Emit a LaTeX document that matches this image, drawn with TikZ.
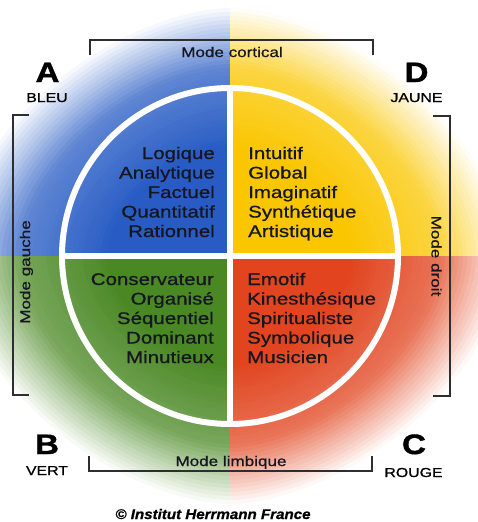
\documentclass[tikz,border=0pt]{standalone}
\usepackage{fontspec}
\setmainfont{Liberation Sans}[FakeStretch=1.22]
\newfontfamily\wordfont{Liberation Sans}[FakeStretch=1.22,FakeBold=0.8]
\newfontfamily\letterfont{Liberation Sans}[FakeStretch=1.18,FakeBold=1.5]
\newfontfamily\copyfont{Liberation Sans}[FakeStretch=1.08,FakeBold=0.8]
\definecolor{qblue}{RGB}{40,92,196}
\definecolor{qyellow}{RGB}{250,198,0}
\definecolor{qgreen}{RGB}{74,136,36}
\definecolor{qred}{RGB}{225,68,30}
\definecolor{ink}{RGB}{22,22,32}
\definecolor{brk}{RGB}{45,45,50}
% #1 colour, #2 x sign, #3 y sign
\newcommand\quadfade[3]{%
  \foreach \R in {256,252,...,112}{
    \pgfmathtruncatemacro\p{\R>190 ? max(0,75*(252-\R)/62) : 100-25*(\R-110)/80}
    \fill[#1!\p!white] (C) -- plot[domain=0:90,samples=31,variable=\t]
      ({230+#2*1.12*\R*max(cos(\t),0.0001)^1.1765},{256+#3*\R*max(sin(\t),0.0001)^1.1765}) -- cycle;
  }
  \fill[#1] (C) -- plot[domain=0:90,samples=31,variable=\t]
      ({230+#2*1.12*110*max(cos(\t),0.0001)^1.1765},{256+#3*110*max(sin(\t),0.0001)^1.1765}) -- cycle;
}
\begin{document}
\begin{tikzpicture}[x=1pt,y=-1pt,
  word/.style={text=ink,font=\wordfont\fontsize{16.8}{20}\selectfont,inner sep=0pt},
  letter/.style={text=black,font=\letterfont\fontsize{28}{30}\selectfont\bfseries,inner sep=0pt,anchor=base},
  colname/.style={text=black,font=\wordfont\fontsize{13}{15}\selectfont,inner sep=0pt,anchor=base},
  modelabel/.style={text=ink,font=\wordfont\fontsize{14}{16}\selectfont,inner sep=0pt},
  bracket/.style={draw=brk,line width=2pt},
  ring/.style={draw=white,line width=6pt}]
\useasboundingbox[fill=white] (0,0) rectangle (478,522);
\coordinate (C) at (230,256);
% coloured background
\begin{scope}
\clip (0,0) rectangle (478,522);
\quadfade{qblue}{-1}{-1}
\quadfade{qyellow}{1}{-1}
\quadfade{qgreen}{-1}{1}
\quadfade{qred}{1}{1}
\end{scope}
% white circle and cross
\draw[ring] (C) circle (168pt);
\coordinate (ct) at (230,88);
\coordinate (cb) at (230,424);
\coordinate (cl) at (62,256);
\coordinate (cr) at (398,256);
\draw[ring] (ct) -- (cb);
\draw[ring] (cl) -- (cr);
% quadrant words
\foreach \w [count=\i from 0] in {Logique,Analytique,Factuel,Quantitatif,Rationnel}
  \node[word,anchor=base east] (tl\i) at (215,159+19.5*\i) {\w};
\foreach \w [count=\i from 0] in {Intuitif,Global,Imaginatif,Synthétique,Artistique}
  \node[word,anchor=base west] (tr\i) at (248,159+19.5*\i) {\w};
\foreach \w [count=\i from 0] in {Conservateur,Organisé,Séquentiel,Dominant,Minutieux}
  \node[word,anchor=base east] (bl\i) at (214,285+19.5*\i) {\w};
\foreach \w [count=\i from 0] in {Emotif,Kinesthésique,Spiritualiste,Symbolique,Musicien}
  \node[word,anchor=base west] (br\i) at (247,285+19.5*\i) {\w};
% corner letters
\node[letter] (A) at (47.5,82) {A};
\node[colname] (bleu) at (47,102) {BLEU};
\node[letter] (D) at (416.5,82) {D};
\node[colname] (jaune) at (416.5,102) {JAUNE};
\node[letter] (B) at (47,454) {B};
\node[colname] (vert) at (47,475) {VERT};
\node[letter] (Cl) at (414,454) {C};
\node[colname] (rouge) at (413.5,477) {ROUGE};
% brackets
\draw[bracket] (90,55) -- (90,40) -- (373,40) -- (373,55);
\node[modelabel,anchor=base] (cortical) at (232,57) {Mode cortical};
\draw[bracket] (89,456) -- (89,471) -- (372,471) -- (372,456);
\node[modelabel,anchor=base] (limbique) at (231,466) {Mode limbique};
\draw[bracket] (29,115) -- (13,115) -- (13,395) -- (29,395);
\node[modelabel,rotate=90] (gauche) at (26.5,272) {Mode gauche};
\draw[bracket] (433,116) -- (450,116) -- (450,396) -- (433,396);
\node[modelabel,rotate=-90] (droit) at (436.5,256) {Mode droit};
% copyright
\node[text=black,font=\copyfont\fontsize{14}{16}\selectfont\bfseries\itshape,inner sep=0pt,anchor=base] (copy) at (213,519) {© Institut Herrmann France};
\end{tikzpicture}
\end{document}
